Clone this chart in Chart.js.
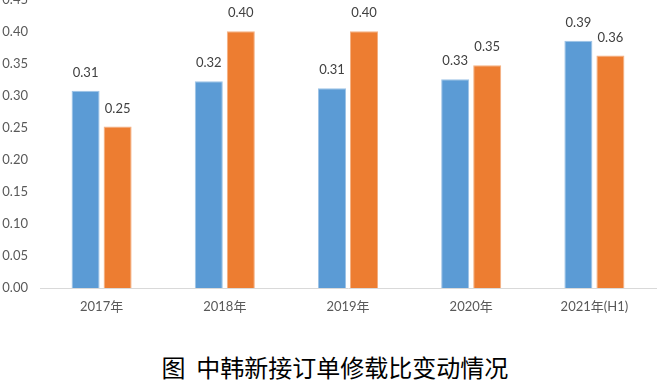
<!DOCTYPE html>
<html>
<head>
<meta charset="utf-8">
<script src="https://cdn.jsdelivr.net/npm/chart.js@4/dist/chart.umd.min.js"></script>
<style>
  html, body { margin: 0; padding: 0; background: #fff; }
  body { width: 670px; height: 380px; position: relative; overflow: hidden; }
  #wrap { position: absolute; left: 0; top: -20px; width: 670px; height: 350px; }
  #title {
    position: absolute; left: 0; width: 670px; top: 352px; text-align: center;
    font-family: "Noto Sans CJK SC", sans-serif; font-size: 24px; line-height: 30px; color: #000;
    white-space: pre;
  }
</style>
</head>
<body>
<div id="wrap"><canvas id="c"></canvas></div>
<div id="title">图  中韩新接订单修载比变动情况</div>
<script>
// 中韩新接订单修载比：两组柱子，柱顶标注数值
const BLUE = "#5b9bd5"
const ORANGE = "#ed7d31"
const AXIS = "#595959"
const LABEL = "#404040"

const years = ["2017年", "2018年", "2019年", "2020年", "2021年(H1)"]
const seriesA = [0.308, 0.323, 0.312, 0.326, 0.386]
const seriesB = [0.252, 0.401, 0.401, 0.348, 0.363]
const yTicks = [0, 0.05, 0.1, 0.15, 0.2, 0.25, 0.3, 0.35, 0.4, 0.45]

// 没有 datalabels 插件，自己画柱顶数字
const barLabels = {
  id: "barLabels",
  afterDatasetsDraw(chart) {
    const ctx = chart.ctx
    ctx.save()
    ctx.font = "13px Lato, sans-serif"
    ctx.fillStyle = LABEL
    ctx.textAlign = "center"
    ctx.textBaseline = "middle"
    chart.data.datasets.forEach((ds, i) => {
      chart.getDatasetMeta(i).data.forEach((bar, j) => {
        ctx.fillText(ds.data[j].toFixed(2), bar.x, bar.y - 18)
      })
    })
    ctx.restore()
  },
}

new Chart(document.getElementById("c"), {
  type: "bar",
  data: {
    labels: years,
    datasets: [
      { data: seriesA, backgroundColor: BLUE, borderColor: "#9dc3e6", borderWidth: 1 },
      { data: seriesB, backgroundColor: ORANGE, borderColor: "#f4b183", borderWidth: 1 },
    ],
  },
  options: {
    responsive: true,
    maintainAspectRatio: false,
    animation: false,
    categoryPercentage: 0.52,
    barPercentage: 0.875,
    layout: { padding: { top: 16, right: 14, left: 0, bottom: 12 } },
    plugins: { legend: { display: false }, tooltip: { enabled: false } },
    scales: {
      x: {
        grid: { display: false, drawTicks: false },
        border: { display: true, color: "#d9d9d9", width: 1 },
        ticks: { color: AXIS, font: { family: "Lato, 'Noto Sans CJK SC', sans-serif", size: 13 }, padding: 11, maxRotation: 0 },
        afterFit: (s) => { s.height = 30 },
      },
      y: {
        min: 0,
        max: 0.45,
        grid: { display: false, drawTicks: false },
        border: { display: false },
        afterBuildTicks: (s) => { s.ticks = yTicks.map((v) => ({ value: v })) },
        ticks: { color: AXIS, font: { family: "Lato, sans-serif", size: 13 }, padding: 12, callback: (v) => v.toFixed(2) },
        afterFit: (s) => { s.width = 40 },
      },
    },
  },
  plugins: [barLabels],
})
</script>
</body>
</html>
